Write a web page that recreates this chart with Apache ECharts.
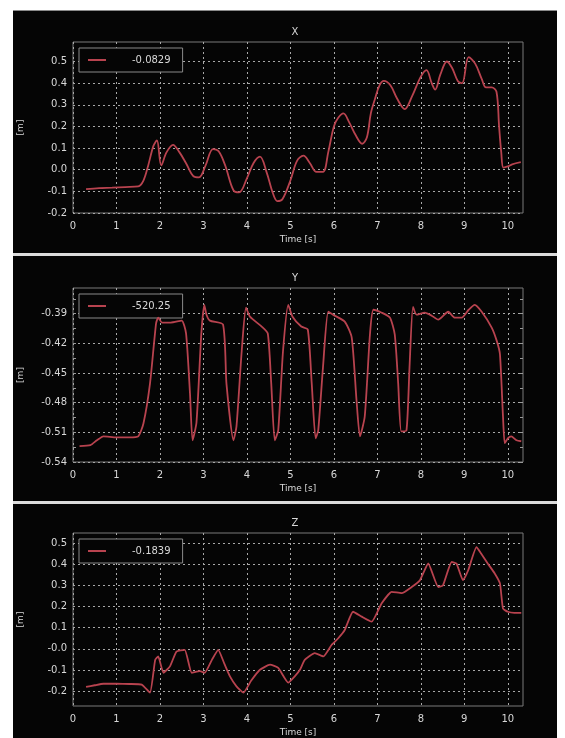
<!DOCTYPE html>
<html>
<head>
<meta charset="utf-8">
<script src="https://cdn.jsdelivr.net/npm/echarts@6/dist/echarts.min.js"></script>
<style>
  html, body { margin: 0; padding: 0; background: #ffffff; }
  #chart { width: 565px; height: 738px; }
</style>
</head>
<body>
<div id="chart"></div>
<script>
// ---------- data ----------
const panelTitles = ['X', 'Y', 'Z'];
const legendNames = ['-0.0829', '-520.25', '-0.1839'];

const xTime = [0.3, 0.6, 0.9, 1.2, 1.5, 1.62, 1.73, 1.85, 1.93, 2.03, 2.15, 2.3, 2.45, 2.6, 2.77, 2.9, 3.05, 3.22, 3.35, 3.5, 3.69, 3.82, 4.0, 4.15, 4.3, 4.45, 4.6, 4.7, 4.82, 5.0, 5.15, 5.3, 5.45, 5.6, 5.75, 5.87, 6.0, 6.1, 6.22, 6.35, 6.5, 6.65, 6.76, 6.85, 6.95, 7.05, 7.15, 7.3, 7.45, 7.63, 7.8, 8.0, 8.13, 8.25, 8.33, 8.45, 8.6, 8.72, 8.85, 8.95, 9.1, 9.25, 9.4, 9.5, 9.63, 9.74, 9.8, 9.85, 9.9, 10.0, 10.1, 10.3];
const xValues = [-0.09, -0.085, -0.083, -0.08, -0.077, -0.05, 0.02, 0.11, 0.135, 0.02, 0.08, 0.115, 0.08, 0.03, -0.03, -0.035, 0.02, 0.095, 0.085, 0.02, -0.095, -0.105, -0.04, 0.03, 0.06, -0.01, -0.11, -0.145, -0.135, -0.05, 0.04, 0.065, 0.03, -0.01, -0.01, 0.08, 0.2, 0.24, 0.26, 0.22, 0.16, 0.12, 0.15, 0.26, 0.33, 0.39, 0.41, 0.39, 0.33, 0.28, 0.34, 0.43, 0.46, 0.4, 0.37, 0.44, 0.5, 0.47, 0.41, 0.4, 0.52, 0.49, 0.42, 0.38, 0.38, 0.36, 0.2, 0.08, 0.01, 0.015, 0.025, 0.035];

const yTime = [0.15, 0.4, 0.55, 0.7, 1.0, 1.3, 1.5, 1.62, 1.77, 1.91, 1.96, 2.05, 2.25, 2.5, 2.6, 2.69, 2.75, 2.84, 2.95, 3.02, 3.07, 3.15, 3.45, 3.53, 3.69, 3.76, 3.88, 3.98, 4.07, 4.34, 4.48, 4.56, 4.64, 4.72, 4.83, 4.95, 5.05, 5.25, 5.4, 5.49, 5.58, 5.64, 5.75, 5.87, 5.98, 6.25, 6.41, 6.52, 6.6, 6.71, 6.83, 6.91, 7.1, 7.29, 7.4, 7.48, 7.55, 7.67, 7.74, 7.82, 7.9, 8.09, 8.25, 8.4, 8.63, 8.78, 8.94, 9.1, 9.24, 9.4, 9.63, 9.75, 9.82, 9.89, 9.93, 10.0, 10.08, 10.2, 10.31];
const yValues = [-0.524, -0.523, -0.518, -0.514, -0.515, -0.515, -0.514, -0.501, -0.461, -0.4, -0.394, -0.399, -0.399, -0.397, -0.41, -0.47, -0.518, -0.5, -0.411, -0.381, -0.391, -0.397, -0.401, -0.461, -0.518, -0.504, -0.428, -0.384, -0.393, -0.403, -0.41, -0.461, -0.518, -0.508, -0.428, -0.381, -0.393, -0.403, -0.406, -0.46, -0.516, -0.508, -0.444, -0.388, -0.391, -0.398, -0.414, -0.477, -0.514, -0.494, -0.411, -0.386, -0.389, -0.394, -0.411, -0.461, -0.509, -0.508, -0.444, -0.383, -0.391, -0.389, -0.392, -0.396, -0.388, -0.394, -0.394, -0.386, -0.381, -0.388, -0.404, -0.418, -0.431, -0.494, -0.521, -0.516, -0.514, -0.518, -0.519];

const zTime = [0.3, 0.5, 0.7, 1.0, 1.3, 1.58, 1.77, 1.89, 1.96, 2.08, 2.23, 2.38, 2.57, 2.73, 2.92, 3.03, 3.2, 3.34, 3.48, 3.61, 3.76, 3.92, 4.1, 4.3, 4.53, 4.72, 4.95, 5.1, 5.22, 5.33, 5.56, 5.76, 5.95, 6.1, 6.25, 6.44, 6.64, 6.87, 7.1, 7.33, 7.56, 7.79, 7.98, 8.17, 8.4, 8.51, 8.71, 8.82, 8.97, 9.09, 9.28, 9.39, 9.55, 9.7, 9.82, 9.89, 10.0, 10.15, 10.31];
const zValues = [-0.18, -0.172, -0.165, -0.165, -0.166, -0.169, -0.207, -0.052, -0.036, -0.113, -0.083, -0.013, -0.005, -0.113, -0.105, -0.113, -0.05, -0.005, -0.07, -0.13, -0.177, -0.207, -0.15, -0.099, -0.075, -0.09, -0.16, -0.13, -0.099, -0.052, -0.02, -0.036, 0.019, 0.05, 0.089, 0.175, 0.152, 0.128, 0.215, 0.269, 0.263, 0.292, 0.324, 0.403, 0.292, 0.3, 0.41, 0.403, 0.324, 0.371, 0.48, 0.449, 0.4, 0.356, 0.309, 0.19, 0.175, 0.17, 0.17];

const timeTicks = [0, 1, 2, 3, 4, 5, 6, 7, 8, 9, 10];
const timeTickLabels = ['0', '1', '2', '3', '4', '5', '6', '7', '8', '9', '10'];
const xTickValues = [-0.2, -0.1, 0.0, 0.1, 0.2, 0.3, 0.4, 0.5];
const xTickLabels = ['-0.2', '-0.1', '0.0', '0.1', '0.2', '0.3', '0.4', '0.5'];
const yTickValues = [-0.54, -0.51, -0.48, -0.45, -0.42, -0.39];
const yTickLabels = ['-0.54', '-0.51', '-0.48', '-0.45', '-0.42', '-0.39'];
const yMinorTickValues = [-0.525, -0.495, -0.465, -0.435, -0.405, -0.375];
const zTickValues = [-0.2, -0.1, 0.0, 0.1, 0.2, 0.3, 0.4, 0.5];
const zTickLabels = ['-0.2', '-0.1', '-0.0', '0.1', '0.2', '0.3', '0.4', '0.5'];

// ---------- chart ----------
const FONT = 'DejaVu Sans';
const TXT = '#d8d8d8';
const LINE = '#b8434f';

function pairs(ts, vs) { return ts.map((t, i) => [t, vs[i]]); }
function labelFor(values, labels) {
  return function (v) {
    for (let i = 0; i < values.length; i++) if (Math.abs(values[i] - v) < 1e-6) return labels[i];
    return '';
  };
}

const gridTops = [42, 288, 533];
const gridHeights = [171, 174, 174];
const yRanges = [[-0.2, 0.59], [-0.54, -0.364], [-0.27, 0.547]];
const smoothing = [0.35, 0.2, 0.15];
const yTicksSets = [[xTickValues, xTickLabels], [yTickValues, yTickLabels], [zTickValues, zTickLabels]];
const dataSets = [pairs(xTime, xValues), pairs(yTime, yValues), pairs(zTime, zValues)];

const grids = [], xAxes = [], yAxes = [], series = [], legends = [], titles = [];
const splitStyle = { color: '#a8a8a8', width: 1, type: [2, 3] };

for (let p = 0; p < 3; p++) {
  grids.push({ left: 73, right: 42, top: gridTops[p], height: gridHeights[p], show: true, borderColor: '#7a7a7a', borderWidth: 1, backgroundColor: 'transparent' });
  xAxes.push({
    type: 'value', gridIndex: p, min: 0, max: 10.35,
    name: 'Time [s]', nameLocation: 'middle', nameGap: 22,
    nameTextStyle: { color: TXT, fontFamily: FONT, fontSize: 9 },
    axisLine: { show: false },
    axisTick: { show: false, customValues: timeTicks },
    axisLabel: { color: TXT, fontFamily: FONT, fontSize: 10, margin: 8, customValues: timeTicks, formatter: labelFor(timeTicks, timeTickLabels) },
    splitLine: { show: true, lineStyle: splitStyle }
  });
  const [tv, tl] = yTicksSets[p];
  yAxes.push({
    type: 'value', gridIndex: p, min: yRanges[p][0], max: yRanges[p][1],
    name: '[m]', nameLocation: 'middle', nameGap: 48, nameRotate: 90,
    nameTextStyle: { color: TXT, fontFamily: FONT, fontSize: 9 },
    axisLine: { show: false },
    axisTick: { show: false, customValues: tv },
    axisLabel: { color: TXT, fontFamily: FONT, fontSize: 10, margin: 6, customValues: tv, formatter: labelFor(tv, tl) },
    splitLine: { show: true, lineStyle: splitStyle }
  });
  series.push({
    type: 'line', name: legendNames[p], xAxisIndex: p, yAxisIndex: p,
    data: dataSets[p], showSymbol: false, symbol: 'none', smooth: smoothing[p],
    lineStyle: { color: LINE, width: 1.8 }, itemStyle: { color: LINE }, z: 5
  });
  legends.push({
    data: [legendNames[p]], left: 79, top: gridTops[p] + 6,
    orient: 'vertical', icon: 'rect', itemWidth: 18, itemHeight: 2,
    padding: [7, 12, 7, 9], borderColor: '#8a8a8a', borderWidth: 1,
    backgroundColor: '#050505',
    textStyle: { color: TXT, fontFamily: FONT, fontSize: 10, padding: [0, 0, 0, 21] },
    selectedMode: false
  });
  titles.push({
    text: panelTitles[p], left: 290, top: gridTops[p] - 20, textAlign: 'center',
    textStyle: { color: TXT, fontFamily: FONT, fontSize: 10, fontWeight: 'normal' }
  });
}

// extra tick-only axes for the Y panel (minor ticks on both sides)
const yMinorAll = yTickValues.concat(yMinorTickValues);
['left', 'right'].forEach(function (pos) {
  yAxes.push({
    type: 'value', gridIndex: 1, position: pos, min: yRanges[1][0], max: yRanges[1][1],
    axisLine: { show: false }, axisLabel: { show: false }, splitLine: { show: false },
    axisTick: { show: true, inside: true, length: 3, customValues: yMinorAll, lineStyle: { color: '#9a9a9a' } }
  });
});

const option = {
  backgroundColor: '#050505',
  animation: false,
  title: titles,
  legend: legends,
  grid: grids,
  xAxis: xAxes,
  yAxis: yAxes,
  series: series,
  graphic: [
    { type: 'rect', shape: { x: 0, y: 0, width: 565, height: 10 }, style: { fill: '#ffffff' }, silent: true },
    { type: 'rect', shape: { x: 13, y: 10, width: 544, height: 1 }, style: { fill: '#8a8a8a' }, silent: true },
    { type: 'rect', shape: { x: 0, y: 0, width: 13, height: 738 }, style: { fill: '#ffffff' }, silent: true },
    { type: 'rect', shape: { x: 557, y: 0, width: 8, height: 738 }, style: { fill: '#ffffff' }, silent: true },
    { type: 'rect', shape: { x: 13, y: 253, width: 544, height: 3 }, style: { fill: '#dcdcdc' }, silent: true },
    { type: 'rect', shape: { x: 13, y: 501, width: 544, height: 3 }, style: { fill: '#dcdcdc' }, silent: true }
  ]
};

const chart = echarts.init(document.getElementById('chart'), null, { renderer: 'canvas' });
chart.setOption(option);
</script>
</body>
</html>
